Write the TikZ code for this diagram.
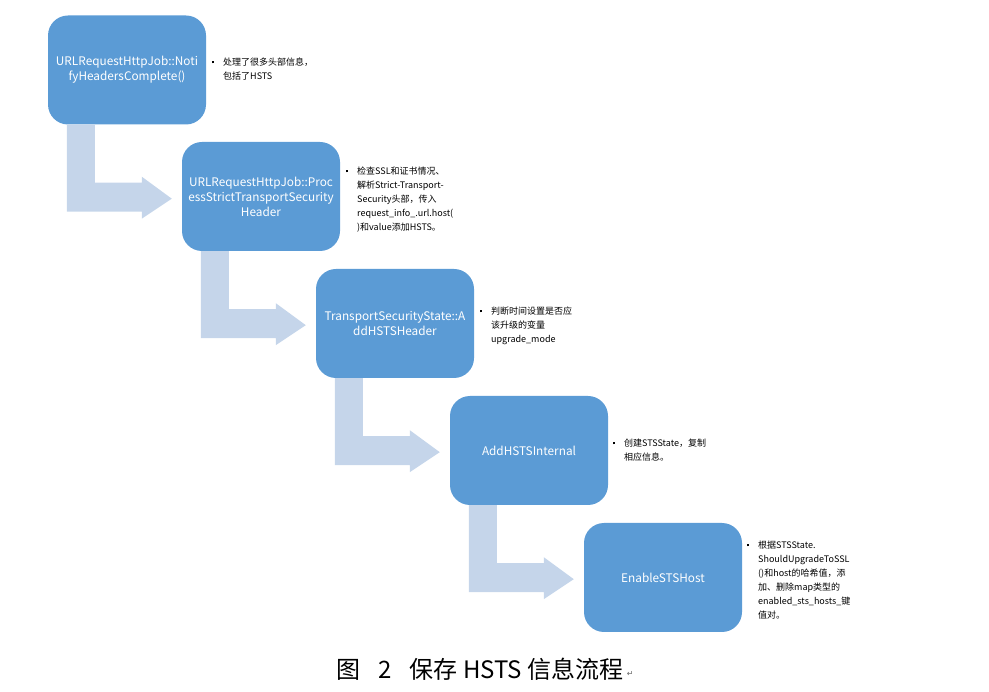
\documentclass[tikz,border=0pt]{standalone}
\usepackage{fontspec}
\setmainfont{Noto Sans CJK SC}
\newfontfamily\symfont{DejaVu Sans}
\definecolor{boxc}{HTML}{5B9BD5}
\definecolor{arrc}{HTML}{C5D5EA}
\begin{document}
\begin{tikzpicture}[x=1pt,y=-1pt,
  box/.style={fill=boxc,draw=none,rounded corners=20pt,minimum width=158pt,minimum height=109pt,
    text width=152pt,align=center,text=white,inner sep=0pt,font=\fontsize{11.8}{15}\selectfont},
  note/.style={anchor=base west,inner sep=0pt,font=\fontsize{9}{14}\selectfont,text=black},
  bent/.style={fill=arrc,draw=none}]
\useasboundingbox (0,0) rectangle (989,692);
\node[box] (b1) at (127,70) {URLRequestHttpJob::Noti\\fyHeadersComplete()};
\node[box] (b2) at (261,196.5) {URLRequestHttpJob::Proc\\essStrictTransportSecurity\\Header};
\node[box] (b3) at (395,323.5) {TransportSecurityState::A\\ddHSTSHeader};
\node[box] (b4) at (529,450.5) {AddHSTSInternal};
\node[box] (b5) at (663,577.5) {EnableSTSHost};
\newcommand\bul{\rule[2.5pt]{2pt}{2pt}\hspace{9pt}}
\node[note] (n1) at (212,66) {\bul\begin{tabular}[t]{@{}l@{}}处理了很多头部信息，\\包括了HSTS\end{tabular}};
\node[note] (n2) at (346,175) {\bul\begin{tabular}[t]{@{}l@{}}检查SSL和证书情况、\\解析Strict-Transport-\\Security头部，传入\\request\_info\_.url.host(\\)和value添加HSTS。\end{tabular}};
\node[note] (n3) at (480,315) {\bul\begin{tabular}[t]{@{}l@{}}判断时间设置是否应\\该升级的变量\\upgrade\_mode\end{tabular}};
\node[note] (n4) at (613,447) {\bul\begin{tabular}[t]{@{}l@{}}创建STSState，复制\\相应信息。\end{tabular}};
\node[note] (n5) at (747,549) {\bul\begin{tabular}[t]{@{}l@{}}根据STSState.\\ShouldUpgradeToSSL\\()和host的哈希值，添\\加、删除map类型的\\enabled\_sts\_hosts\_键\\值对。\end{tabular}};
\foreach \b in {b1,b2,b3,b4} {
  \path[bent] ([xshift=19pt]\b.south west) -- ++(28,0) -- ++(0,58) -- ++(47,0) -- ++(0,-6)
    -- ++(30,22) -- ++(-30,20) -- ++(0,-7) -- ++(-75,0) -- cycle;
}
\node[inner sep=0pt,anchor=center,font=\fontsize{24}{26}\selectfont] (cap) at (480,669) {图\hspace{0.75em}2\hspace{0.75em}保存 HSTS 信息流程};
\node[inner sep=0pt,anchor=west,font=\symfont\fontsize{8}{9}\selectfont,text=black!60] (pm) at ([xshift=3pt,yshift=-5pt]cap.east) {↵};
\end{tikzpicture}
\end{document}
